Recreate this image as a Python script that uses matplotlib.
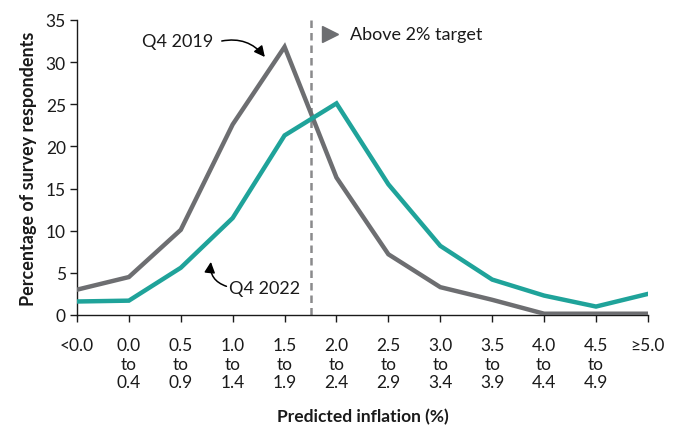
import matplotlib
matplotlib.use("Agg")
import matplotlib.pyplot as plt

plt.rcParams['font.family'] = ['Lato', 'DejaVu Sans']

categories = ["<0.0", "0.0\nto\n0.4", "0.5\nto\n0.9", "1.0\nto\n1.4", "1.5\nto\n1.9",
              "2.0\nto\n2.4", "2.5\nto\n2.9", "3.0\nto\n3.4", "3.5\nto\n3.9",
              "4.0\nto\n4.4", "4.5\nto\n4.9", "\u22655.0"]
q4_2019 = [3.0, 4.5, 10.1, 22.6, 31.8, 16.3, 7.2, 3.3, 1.8, 0.15, 0.15, 0.15]
q4_2022 = [1.6, 1.7, 5.6, 11.5, 21.3, 25.1, 15.5, 8.2, 4.2, 2.3, 1.0, 2.5]
y_ticks = [0, 5, 10, 15, 20, 25, 30, 35]

grey = "#6d6e71"
teal = "#1fa39a"
text_c = "#1a1a1a"

fig = plt.figure(figsize=(6.77, 4.27), dpi=100)
ax = fig.add_axes([0.1137, 0.26, 0.957 - 0.1137, 0.951 - 0.26])

x = list(range(len(categories)))
ax.plot(x, q4_2019, color=grey, lw=3.2, solid_joinstyle='miter', zorder=3)
ax.plot(x, q4_2022, color=teal, lw=3.2, solid_joinstyle='miter', zorder=4)

ax.axvline(4.5, color="#8a8a8c", lw=1.8, ls=(0, (3, 2)), zorder=2)

ax.set_xlim(0, 11)
ax.set_ylim(0, 35)
ax.set_xticks(x)
ax.set_xticklabels(categories, fontsize=12.5, color=text_c, linespacing=1.2)
ax.set_yticks(y_ticks)
ax.set_yticklabels([str(v) for v in y_ticks], fontsize=12.5, color=text_c)
ax.tick_params(axis='both', direction='out', length=5, width=1, color=text_c)
ax.tick_params(axis='x', pad=11)
ax.tick_params(axis='y', pad=3)
for s in ['top', 'right']:
    ax.spines[s].set_visible(False)
for s in ['left', 'bottom']:
    ax.spines[s].set_color(text_c)
    ax.spines[s].set_linewidth(1)

ax.set_ylabel("Percentage of survey respondents", fontsize=13, fontweight='bold',
              color=text_c, labelpad=6)
ax.set_xlabel("Predicted inflation (%)", fontsize=12.5, fontweight='bold',
              color=text_c, labelpad=12.5)

# Above target marker
ax.plot([4.88], [33.3], marker='>', color=grey, markersize=12, clip_on=False)
ax.text(5.26, 33.3, "Above 2% target", fontsize=13, color=text_c, va='center', ha='left')

# Annotations
ax.text(1.93, 32.5, "Q4 2019", fontsize=13, color=text_c, ha='center', va='center')
ax.annotate("", xy=(3.62, 30.6), xytext=(2.79, 32.5),
            arrowprops=dict(arrowstyle='-|>', color='black', lw=1.1,
                            connectionstyle='arc3,rad=-0.3', mutation_scale=16,
                            shrinkA=0, shrinkB=0))
ax.text(3.62, 3.2, "Q4 2022", fontsize=13, color=text_c, ha='center', va='center')
ax.annotate("", xy=(2.58, 6.3), xytext=(2.88, 3.4),
            arrowprops=dict(arrowstyle='-|>', color='black', lw=1.1,
                            connectionstyle='arc3,rad=-0.4', mutation_scale=16,
                            shrinkA=0, shrinkB=0))

fig.savefig("out.png", dpi=100)
